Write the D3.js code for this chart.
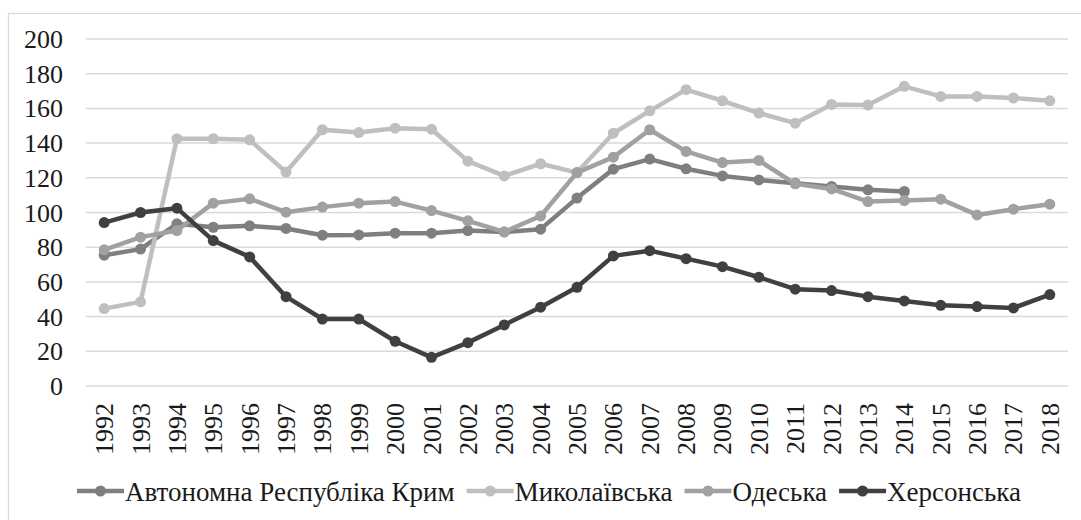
<!doctype html>
<html>
<head>
<meta charset="utf-8">
<script src="https://d3js.org/d3.v7.min.js"></script>
</head>
<body style="margin:0">
<script>
const years = d3.range(1992, 2019).map(String);
const yTicks = [0, 20, 40, 60, 80, 100, 120, 140, 160, 180, 200];

const seriesNames = ['Автономна Республіка Крим', 'Миколаївська', 'Одеська', 'Херсонська'];
const crimea = [75.4, 78.9, 93.5, 91.5, 92.3, 90.8, 86.9, 87.1, 88.1, 88.1, 89.6, 88.8, 90.4,
  108.3, 125, 130.8, 125.2, 121.1, 118.8, 116.9, 115, 113.1, 112.1, null, null, null, null];
const mykolaiv = [44.6, 48.5, 142.5, 142.5, 141.9, 123.3, 147.7, 146.1, 148.6, 148, 129.6, 121.1, 128.1,
  123, 145.7, 158.6, 170.8, 164.4, 157.3, 151.5, 162.3, 161.9, 172.7, 166.9, 166.9, 166, 164.4];
const odesa = [78.5, 85.8, 89.6, 105.4, 107.9, 100.2, 103.1, 105.4, 106.3, 101.1, 95.2, 88.8, 98,
  123, 131.9, 147.7, 135.2, 128.8, 130, 116.5, 113.6, 106.3, 106.9, 107.7, 98.6, 101.9, 104.8];
const kherson = [94.2, 100, 102.5, 83.8, 74.4, 51.5, 38.6, 38.6, 25.8, 16.5, 25, 35.2, 45.4,
  56.9, 75, 78, 73.4, 68.8, 62.7, 55.8, 55, 51.5, 49, 46.5, 45.8, 45, 52.7];
const colors = ['#7f7f81', '#bfbfc1', '#a1a1a3', '#404042'];

const W = 1081, H = 520;
const FONT = '"Liberation Serif", monospace';
const svg = d3.select('body').append('svg').attr('width', W).attr('height', H);

// outer chart border
svg.append('rect')
  .attr('x', 8.5).attr('y', 13.5).attr('width', W).attr('height', H)
  .attr('fill', 'none').attr('stroke', '#d9d9d9').attr('stroke-width', 1.2);

const x = d3.scaleBand().domain(years).range([86, 1068]);
const y = d3.scaleLinear().domain([0, 200]).range([386, 39]);
const cx = d => x(d) + x.bandwidth() / 2;

// gridlines + y labels
svg.selectAll('line.grid').data(yTicks).enter().append('line')
  .attr('class', 'grid')
  .attr('x1', 86).attr('x2', 1068)
  .attr('y1', d => y(d)).attr('y2', d => y(d))
  .attr('stroke', '#d9d9d9').attr('stroke-width', 1.5);
yTicks.forEach(d => {
  svg.append('text').attr('font-family', FONT).attr('font-size', 26)
    .attr('x', 63).attr('y', y(d) + 9)
    .attr('text-anchor', 'end').attr('fill', '#1a1a1a')
    .text(d);
});

// x labels, rotated
years.forEach(d => {
  svg.append('text').attr('font-family', FONT).attr('font-size', 26)
    .attr('transform', 'translate(' + (cx(d) + 9) + ',403) rotate(-90)')
    .attr('text-anchor', 'end').attr('fill', '#1a1a1a')
    .text(d);
});

const allSeries = [crimea, mykolaiv, odesa, kherson];
const line = d3.line()
  .defined(d => d.v != null)
  .x(d => cx(d.year)).y(d => y(d.v));

allSeries.forEach((vals, i) => {
  const pts = vals.map((v, j) => ({year: years[j], v: v}));
  const g = svg.append('g').attr('class', 'series');
  g.append('path').datum(pts)
    .attr('d', line).attr('fill', 'none')
    .attr('stroke', colors[i]).attr('stroke-width', 4.5).attr('stroke-linejoin', 'round');
  g.selectAll('circle').data(pts.filter(p => p.v != null)).enter().append('circle')
    .attr('cx', p => cx(p.year)).attr('cy', p => y(p.v))
    .attr('r', 5.5).attr('fill', colors[i]);
});

// legend
let lx = 77;
const ly = 491;
seriesNames.forEach((name, i) => {
  svg.append('line').attr('x1', lx).attr('x2', lx + 47).attr('y1', ly).attr('y2', ly)
    .attr('stroke', colors[i]).attr('stroke-width', 4.5);
  svg.append('circle').attr('cx', lx + 23.5).attr('cy', ly).attr('r', 5.5).attr('fill', colors[i]);
  const t = svg.append('text').attr('font-family', FONT).attr('font-size', 27)
    .attr('x', lx + 48).attr('y', ly + 9.5).attr('fill', '#1a1a1a').text(name);
  lx += 48 + t.node().getComputedTextLength() + 12;
});
</script>
</body>
</html>
